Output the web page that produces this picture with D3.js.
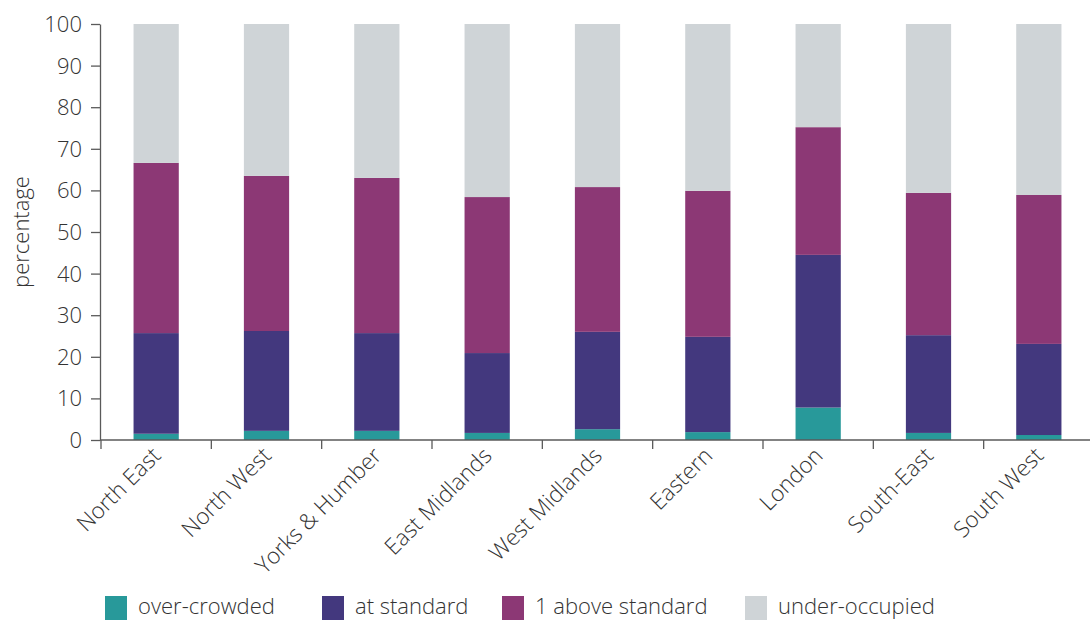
<!DOCTYPE html>
<html>
<head>
<meta charset="utf-8">
<script src="https://cdn.jsdelivr.net/npm/d3@7"></script>
<style>
  html, body { margin: 0; padding: 0; background: #fff; }
  svg { display: block; font-family: "Open Sans", sans-serif; font-weight: 300; }
  .axis text { fill: #333; }
  .axis path, .axis line { stroke: #5a5a5a; stroke-width: 1.3; }
</style>
</head>
<body>
<svg id="chart" width="1090" height="621"></svg>
<script>
// Regions of England
const regions = ["North East", "North West", "Yorks & Humber", "East Midlands",
                 "West Midlands", "Eastern", "London", "South-East", "South West"];

// Share of households in each occupancy group (%)
const overCrowded   = [1.5, 2.2, 2.2, 1.7, 2.6, 1.9, 7.8, 1.7, 1.2];
const atStandard    = [24.2, 24.0, 23.5, 19.2, 23.4, 22.9, 36.7, 23.5, 21.9];
const oneAbove      = [40.9, 37.3, 37.3, 37.5, 34.8, 35.1, 30.7, 34.2, 35.8];
const underOccupied = [33.4, 36.5, 37.0, 41.6, 39.2, 40.1, 24.8, 40.6, 41.1];

const seriesNames  = ["over-crowded", "at standard", "1 above standard", "under-occupied"];
const seriesColors = ["#28999a", "#43387e", "#8c3875", "#cfd4d7"];
const yTicks = [0, 10, 20, 30, 40, 50, 60, 70, 80, 90, 100];

const keys = ["over", "at", "above", "under"];
const rows = regions.map((r, i) => ({
  region: r, over: overCrowded[i], at: atStandard[i],
  above: oneAbove[i], under: underOccupied[i]
}));

const svg = d3.select("#chart");
const x0 = 101, x1 = 1094, yTop = 24, yBottom = 440;

const x = d3.scaleBand().domain(regions).range([x0, x1]).paddingInner(0.59).paddingOuter(0.295);
const xBand = d3.scaleBand().domain(regions).range([x0, x1]).padding(0);
const y = d3.scaleLinear().domain([0, 100]).range([yBottom, yTop]);

const stacked = d3.stack().keys(keys)(rows);

// Stacked bars
svg.append("g").selectAll("g").data(stacked).join("g")
  .attr("fill", (d, i) => seriesColors[i])
  .selectAll("rect").data(d => d).join("rect")
  .attr("x", d => x(d.data.region))
  .attr("width", x.bandwidth())
  .attr("y", d => y(d[1]))
  .attr("height", d => y(d[0]) - y(d[1]));

// Y axis
const yAxis = svg.append("g").attr("class", "axis")
  .attr("transform", `translate(${x0 - 1},0)`)
  .call(d3.axisLeft(y).tickValues(yTicks).tickSize(9).tickSizeOuter(0).tickPadding(9))
  .attr("font-family", null).attr("font-size", null);
yAxis.selectAll("text").style("font-size", "22px").attr("dy", "0.34em");

// X axis: ticks mark the boundaries between regions
const xAxis = svg.append("g").attr("class", "axis")
  .attr("transform", `translate(0,${yBottom})`);
xAxis.append("line").attr("x1", x0 - 1).attr("x2", 1090).attr("y1", 0).attr("y2", 0);
xAxis.selectAll("line.tick").data(regions).join("line").attr("class", "tick")
  .attr("x1", d => xBand(d)).attr("x2", d => xBand(d))
  .attr("y1", 0).attr("y2", 9);
xAxis.selectAll("text.lab").data(regions).join("text").attr("class", "lab")
  .attr("text-anchor", "end")
  .style("font-size", "22.5px")
  .attr("transform", d => `translate(${xBand(d) + xBand.bandwidth() / 2 + 6},${17}) rotate(-45)`)
  .text(d => d);

// Y axis title
svg.append("text")
  .attr("transform", `translate(29,${(yTop + yBottom) / 2}) rotate(-90)`)
  .attr("text-anchor", "middle")
  .style("font-size", "22px").attr("fill", "#333")
  .text("percentage");

// Legend
const legendX = [105, 322, 502, 745];
const legend = svg.append("g").selectAll("g").data(seriesNames).join("g")
  .attr("transform", (d, i) => `translate(${legendX[i]},595)`);
legend.append("rect").attr("y", 1).attr("width", 22).attr("height", 24)
  .attr("fill", (d, i) => seriesColors[i]);
legend.append("text").attr("x", 33).attr("y", 19)
  .style("font-size", "22px").attr("fill", "#333")
  .text(d => d);
</script>
</body>
</html>
